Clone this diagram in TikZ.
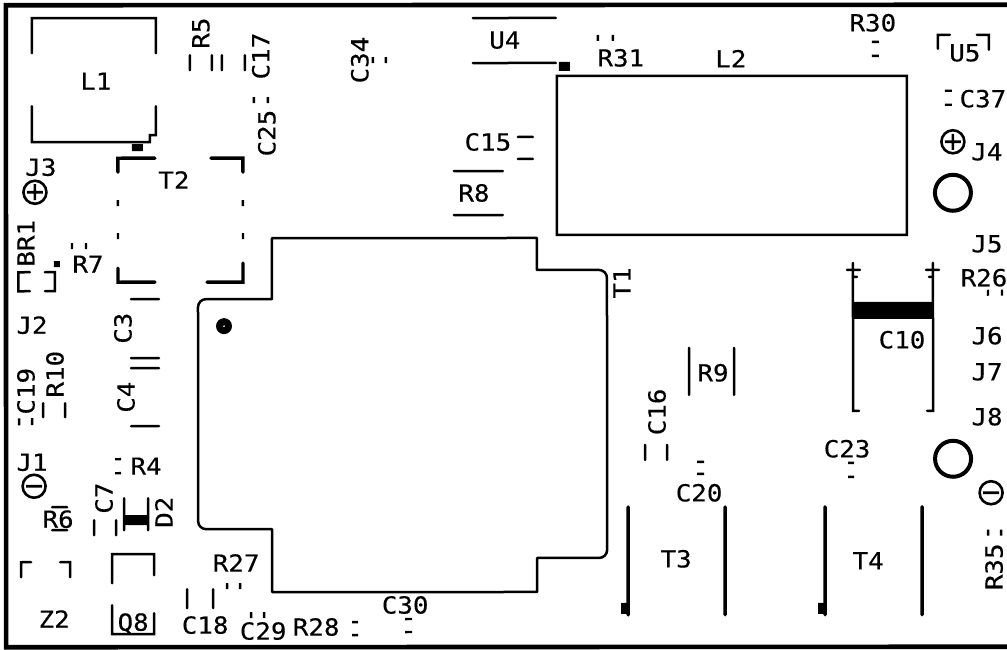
\documentclass[tikz,border=0pt]{standalone}
\usepackage{fontspec}
\setmainfont[FakeStretch=1.1,FakeBold=0.35]{DejaVu Sans Mono}
\tikzset{
  silk/.style={draw=black,line width=2.5pt,line cap=round,line join=miter},
  outlinecurve/.style={draw=black,line width=2.5pt,line join=round},
  heavy/.style={silk,line width=3.4pt},
  tick/.style={draw=black,line width=2.4pt,line cap=butt},
  ring/.style={draw=black,line width=2.6pt},
  bigring/.style={draw=black,line width=4pt},
  solidblk/.style={fill=black,draw=none},
  lbl/.style={inner sep=0pt,outer sep=0pt,text height=17pt,text depth=0pt,font=\fontsize{23.5}{24}\selectfont,text=black},
  vlbl/.style={lbl,rotate=90}
}
\newcommand{\vtick}[3]{\draw[tick] (#1,#2) -- (#1,#3);}
\newcommand{\htick}[3]{\draw[tick] (#2,#1) -- (#3,#1);}
\begin{document}
\begin{tikzpicture}[x=1pt,y=-1pt]
\useasboundingbox (0,0) rectangle (1007,650);
\fill[white] (0,0) rectangle (1007,650);
\begin{scope}[rotate around={0.03:(503,325)}]
% board outline
\draw[draw=black,line width=4.6pt] (1012,5) -- (6,5) -- (6,647) -- (1012,647);
% L1
\draw[silk] (32,53) -- (32,18) -- (156,18) -- (156,53);
\draw[silk] (32,106) -- (32,142) -- (150,142) -- (150,135) -- (156,135) -- (156,106);
\fill[solidblk] (132,144) rectangle (143,151);
\node[lbl] (L1) at (96,81) {L1};
% R5, C17, C25
\draw[silk] (190,55) -- (190,70); \draw[silk] (212,55) -- (212,70);
\draw[silk] (222,55) -- (222,70); \draw[silk] (245,55) -- (245,70);
\node[vlbl] (R5) at (201,33) {R5};
\node[vlbl] (C17) at (261,56) {C17};
\vtick{254}{97}{103} \vtick{268}{97}{103}
\node[vlbl] (C25) at (267,133) {C25};
% J3
\draw[ring] (35,192) circle (11.5);
\draw[ring] (27,192) -- (43,192) (35,184) -- (35,200);
\node[lbl] (J3) at (41,167) {J3};
% T2
\draw[heavy] (118,172) -- (118,158) -- (155,158);
\draw[heavy] (211,158) -- (243,158) -- (243,172);
\draw[heavy] (118,268) -- (118,282) -- (155,282);
\draw[heavy] (207,282) -- (243,282) -- (243,263);
\vtick{118}{200}{206} \vtick{243}{200}{206}
\vtick{118}{233}{239} \vtick{243}{233}{239}
\node[lbl] (T2) at (174,180) {T2};
% T1
\draw[outlinecurve] (272,238) -- (537,238) -- (537,270) -- (599,270)
  .. controls (603.4,270) and (607,273.6) .. (607,278) -- (607,550)
  .. controls (607,554.4) and (603.4,558) .. (599,558) -- (537,558) -- (537,592) -- (272,592) -- (272,529) -- (206,529)
  .. controls (201.6,529) and (198,525.4) .. (198,521) -- (198,307)
  .. controls (198,302.6) and (201.6,299) .. (206,299) -- (272,299) -- cycle;
\fill[black] (224,326) circle (8);
\fill[white] (224,326) circle (0.9);
\node[vlbl] (T1) at (622,283) {T1};
% BR1, R7
\draw[silk] (30,272) -- (18.5,272) -- (18.5,291) -- (30,291);
\draw[silk] (45,272) -- (55,272) -- (55,291) -- (45,291);
\fill[solidblk] (54,261) rectangle (60,267);
\node[vlbl] (BR1) at (26,243) {BR1};
\vtick{72}{243}{249} \vtick{86}{243}{249}
\node[lbl] (R7) at (88,264) {R7};
% C3, C4
\draw[silk] (131,299) -- (159,299); \draw[silk] (131,358) -- (159,358);
\draw[silk] (131,368) -- (159,368); \draw[silk] (131,426) -- (159,426);
\node[vlbl] (C3) at (123,328) {C3};
\node[vlbl] (C4) at (126,397) {C4};
% J2, C19, R10
\node[lbl] (J2) at (32,325) {J2};
\node[vlbl] (C19) at (26,391) {C19};
\vtick{19}{418}{425} \vtick{32}{418}{425}
\node[vlbl] (R10) at (55,374) {R10};
\draw[silk] (43,403) -- (43,417); \draw[silk] (65,403) -- (65,417);
% J1, R4, R6, C7, D2
\node[lbl] (J1) at (32,462) {J1};
\draw[ring] (34,486) circle (11.5);
\draw[ring] (26,486) -- (42,486);
\node[lbl] (R4) at (146,466) {R4};
\htick{459}{115}{121} \htick{473}{115}{121}
\node[lbl] (R6) at (58,519) {R6};
\draw[silk] (52,507) -- (67,507); \draw[silk] (52,530) -- (67,530);
\node[vlbl] (C7) at (104,498) {C7};
\draw[silk] (94,520) -- (94,535); \draw[silk] (116,520) -- (116,535);
\draw[silk] (124,498) -- (124,530); \draw[silk] (148,498) -- (148,530);
\fill[solidblk] (124,515) rectangle (148,525);
\node[vlbl] (D2) at (164,512) {D2};
% Z2, Q8
\draw[silk] (21,577) -- (21,562) -- (31,562);
\draw[silk] (60,562) -- (70,562) -- (70,577);
\node[lbl] (Z2) at (54,619) {Z2};
\draw[silk] (112,583) -- (112,554) -- (154,554) -- (154,575);
\draw[silk] (112,605) -- (112,634) -- (154,634) -- (154,613);
\node[lbl] (Q8) at (133,622) {Q8};
% R27, C18, C29, R28, C30
\node[lbl] (R27) at (236,563) {R27};
\vtick{227}{583}{589} \vtick{240}{583}{589}
\node[lbl] (C18) at (205,625) {C18};
\draw[silk] (187,589) -- (187,608); \draw[silk] (213,589) -- (213,608);
\node[lbl] (C29) at (263,631) {C29};
\vtick{251}{612}{618} \vtick{264}{612}{618}
\node[lbl] (R28) at (316,627) {R28};
\htick{622}{352}{358} \htick{635}{352}{358}
\node[lbl] (C30) at (405,605) {C30};
\htick{619}{405}{412} \htick{632}{405}{412}
% C34, U4, R31, L2
\node[vlbl] (C34) at (360,60) {C34};
\vtick{373}{57}{63} \vtick{386}{57}{63}
\draw[silk] (473,18) -- (556,18); \draw[silk] (473,63) -- (556,63);
\node[lbl] (U4) at (505,40) {U4};
\fill[solidblk] (559,62) rectangle (570,71);
\node[lbl] (R31) at (621,58) {R31};
\vtick{598}{35}{41} \vtick{613}{35}{41}
\draw[silk,line cap=butt,line join=miter] (557,76) rectangle (907,235);
\node[lbl] (L2) at (731,59) {L2};
% C15, R8
\node[lbl] (C15) at (488,142) {C15};
\draw[silk] (518,137) -- (533,137); \draw[silk] (518,159) -- (533,159);
\node[lbl] (R8) at (474,193) {R8};
\draw[silk] (454,171) -- (503,171); \draw[silk] (454,215) -- (503,215);
% R30, U5, C37, J4
\node[lbl] (R30) at (873,23) {R30};
\htick{42}{872}{879} \htick{56}{872}{879}
\node[lbl] (U5) at (965,53) {U5};
\draw[silk] (938,49) -- (938,35) -- (950,35);
\draw[silk] (977,35) -- (989,35) -- (989,50);
\node[lbl] (C37) at (983,99) {C37};
\htick{91}{945}{952} \htick{105}{945}{952}
\draw[ring] (953,142) circle (11.5);
\draw[ring] (945,142) -- (961,142) (953,134) -- (953,150);
\node[lbl] (J4) at (987,152) {J4};
\draw[bigring] (953,193) circle (18);
% right column
\node[lbl] (J5) at (987,244) {J5};
\node[lbl] (R26) at (984,278) {R26};
\vtick{988}{290}{296} \vtick{1002}{290}{296}
\node[lbl] (J6) at (987,336) {J6};
\node[lbl] (J7) at (987,372) {J7};
\node[lbl] (J8) at (987,417) {J8};
% C10
\draw[silk] (859,411) -- (853,411) -- (853,263);
\draw[silk] (927,411) -- (933,411) -- (933,263);
\draw[silk] (847,270) -- (860,270); \draw[silk] (926,270) -- (939,270);
\draw[silk] (853,277) -- (857,277); \draw[silk] (933,277) -- (929,277);
\fill[solidblk] (853,302) rectangle (933,319);
\node[lbl] (C10) at (902,340) {C10};
% lower right
\draw[bigring] (953,459) circle (18);
\draw[ring] (991,493) circle (11.5);
\draw[ring] (983,493) -- (999,493);
\node[vlbl] (R35) at (994,567) {R35};
\vtick{988}{530}{536} \vtick{1001}{530}{536}
\node[lbl] (C23) at (847,449) {C23};
\htick{463}{848}{854} \htick{477}{848}{854}
% T4
\draw[heavy] (825,507) -- (825,615); \draw[heavy] (922,507) -- (922,615);
\fill[solidblk] (818,603) rectangle (825,614);
\node[lbl] (T4) at (868,561) {T4};
% T3
\draw[heavy] (628,507) -- (628,615); \draw[heavy] (725,507) -- (725,615);
\fill[solidblk] (621,603) rectangle (628,614);
\node[lbl] (T3) at (676,559) {T3};
% R9, C16, C20
\draw[silk] (689,348) -- (689,395); \draw[silk] (734,348) -- (734,395);
\node[lbl] (R9) at (713,373) {R9};
\node[vlbl] (C16) at (657,412) {C16};
\draw[silk] (645,445) -- (645,460); \draw[silk] (667,445) -- (667,460);
\node[lbl] (C20) at (699,493) {C20};
\htick{462}{697}{704} \htick{474}{697}{704}
\end{scope}
\end{tikzpicture}
\end{document}
